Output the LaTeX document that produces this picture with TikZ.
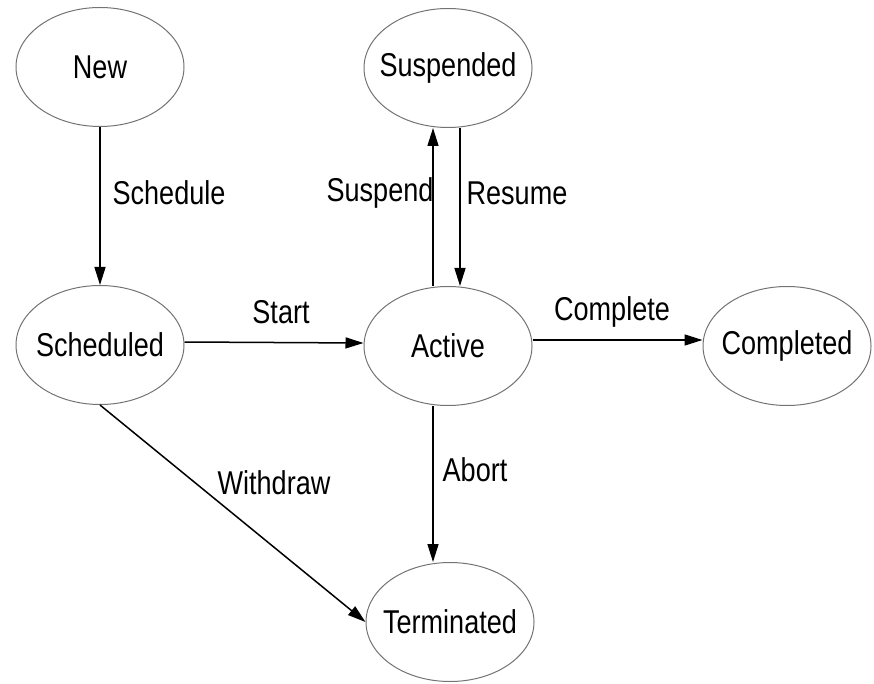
\documentclass[tikz,border=0pt]{standalone}
\usepackage{fontspec}
\setmainfont{Liberation Sans}[FakeStretch=0.82]
\usetikzlibrary{arrows.meta,shapes.geometric}

% zero-width label box so the ellipse keeps its fixed size
\newcommand{\statetext}[1]{\makebox[0pt]{#1}}

\begin{document}
\begin{tikzpicture}[x=1pt,y=-1pt,
  state/.style={ellipse,draw=black!55,line width=1pt,inner sep=0pt,
    minimum width=168pt,minimum height=119pt,font=\fontsize{33}{36}\selectfont},
  trans/.style={draw=black,line width=1.5pt,-{Triangle[length=18pt,width=11pt]}},
  lbl/.style={font=\fontsize{33}{36}\selectfont,inner sep=0pt}]
\useasboundingbox (0,0) rectangle (874,684);

% states
\node[state] (new)        at (100,67)  {\statetext{New}};
\node[state] (suspended)  at (448,68)  {\statetext{Suspended}};
\node[state] (scheduled)  at (100,345) {\statetext{Scheduled}};
\node[state] (active)     at (448,346) {\statetext{Active}};
\node[state] (completed)  at (787,346) {\statetext{Completed}};
\node[state] (terminated) at (450,622) {\statetext{Terminated}};

% transitions
\draw[trans] ([yshift=3pt]scheduled.east) -- ([yshift=3pt]active.west);
\draw[trans] (new) -- (scheduled);
\draw[trans] ([xshift=-15pt]active.north) -- ([xshift=-15pt]suspended.south);
\draw[trans] ([xshift=12pt]suspended.south) -- ([xshift=12pt]active.north);
\draw[trans] ([yshift=6pt]active.east) -- ([yshift=6pt]completed.west);
\draw[trans] ([xshift=-15pt]active.south) -- ([xshift=-17pt]terminated.north);
\draw[trans] (scheduled.south) -- (terminated.west);

% transition labels
\node[lbl] (lschedule) at (169,193) {Schedule};
\node[lbl] (lstart)    at (281,312) {Start};
\node[lbl] (lsuspend)  at (380,193) {Suspend};
\node[lbl] (lresume)   at (517,193) {Resume};
\node[lbl] (lcomplete) at (612,312) {Complete};
\node[lbl] (labort)    at (475,470) {Abort};
\node[lbl] (lwithdraw) at (274,483) {Withdraw};
\end{tikzpicture}
\end{document}
